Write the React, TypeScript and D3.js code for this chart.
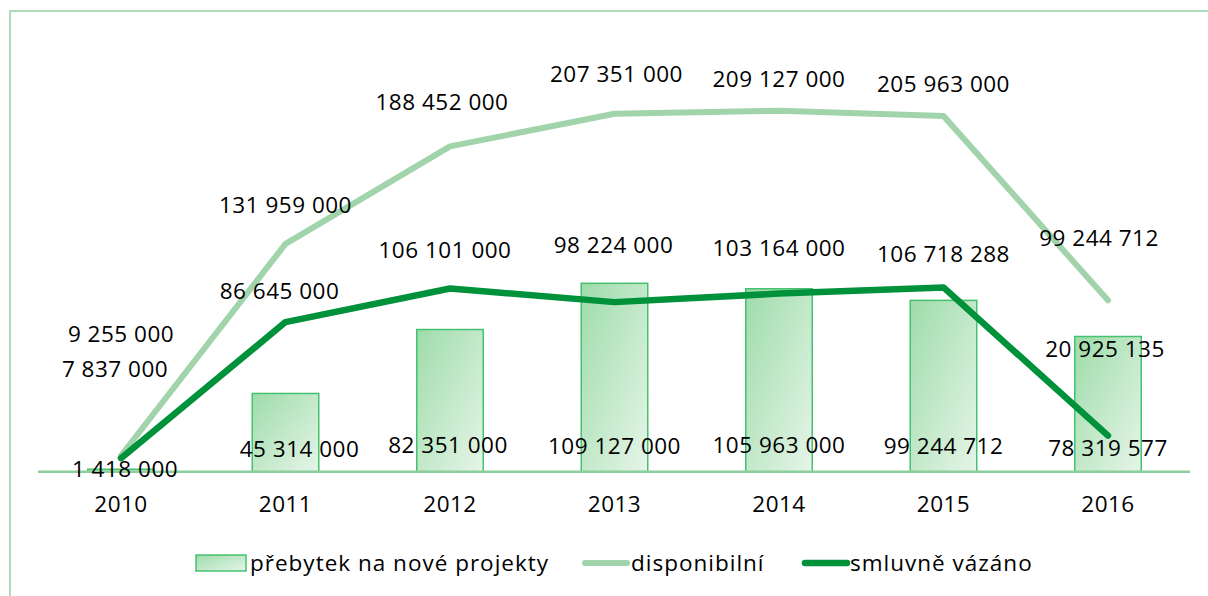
import React from "react";
import * as d3 from "d3";

// data
const years = ["2010", "2011", "2012", "2013", "2014", "2015", "2016"];
const prebytek = [1418000, 45314000, 82351000, 109127000, 105963000, 99244712, 78319577];
const disponibilni = [9255000, 131959000, 188452000, 207351000, 209127000, 205963000, 99244712];
const smluvne = [7837000, 86645000, 106101000, 98224000, 103164000, 106718288, 20925135];

// manual label placement (dx, dy from the point), as in the original
const dispLabelOff = [[0, -114], [0, -31], [-8, -36], [2, -32], [0, -24], [0, -24], [-9, -54]];
const smlLabelOff = [[-6, -81], [-6, -23], [-5, -31], [-1, -49], [0, -38], [0, -25], [-3, -79]];
const barLabelOff = [[4, 5], [14, -15], [-2, -19], [0, -18], [0, -19], [0, -18], [0, -16]];

const W = 1208;
const H = 596;
const FONT = "'Open Sans', sans-serif";

const fmt = (v: number) => d3.format(",")(v).replace(/,/g, " ");

export default function App() {
  const x = d3.scaleBand<string>().domain(years).range([38.75, 1190.25]);
  const y = d3.scaleLinear().domain([0, 109127000]).range([471.7, 283.3]);
  const cx = (yr: string) => (x(yr) as number) + x.bandwidth() / 2;
  const barW = 66.5;

  const line = d3
    .line<number>()
    .x((d, i) => cx(years[i]))
    .y((d) => y(d));

  const textStyle = { fontFamily: FONT, fontSize: 22.5, letterSpacing: 0.5, fill: "#000" };
  const legendStyle = { ...textStyle, letterSpacing: 1 };

  return (
    <svg
      width={W}
      height={H}
      style={{ position: "absolute", left: 0, top: 0, background: "#fff" }}
    >
      <defs>
        <linearGradient id="barGrad" x1="0" y1="0" x2="1" y2="1">
          <stop offset="0" stopColor="#9edcaa" />
          <stop offset="1" stopColor="#e6f5e8" />
        </linearGradient>
      </defs>
      <rect x={10} y={11} width={W + 10} height={H + 10} fill="none" stroke="#aedcb8" strokeWidth={2} />

      {prebytek.map((v, i) => (
        <rect
          key={"b" + i}
          x={cx(years[i]) - barW / 2}
          y={y(v)}
          width={barW}
          height={y(0) - y(v)}
          fill="url(#barGrad)"
          stroke="#45c270"
          strokeWidth={1.5}
        />
      ))}

      <line x1={38} x2={1190} y1={y(0)} y2={y(0)} stroke="#8dcf9c" strokeWidth={2.5} />

      <path d={line(disponibilni) || ""} fill="none" stroke="#a1d4ab" strokeWidth={6} strokeLinecap="round" strokeLinejoin="round" />
      <path d={line(smluvne) || ""} fill="none" stroke="#00913b" strokeWidth={6.5} strokeLinecap="round" strokeLinejoin="round" />

      {years.map((yr, i) => (
        <g key={"l" + yr}>
          <text
            x={cx(yr) + dispLabelOff[i][0]}
            y={y(disponibilni[i]) + dispLabelOff[i][1]}
            textAnchor="middle"
            style={textStyle}
          >
            {fmt(disponibilni[i])}
          </text>
          <text
            x={cx(yr) + smlLabelOff[i][0]}
            y={y(smluvne[i]) + smlLabelOff[i][1]}
            textAnchor="middle"
            style={textStyle}
          >
            {fmt(smluvne[i])}
          </text>
          <text
            x={cx(yr) + barLabelOff[i][0]}
            y={y(0) + barLabelOff[i][1]}
            textAnchor="middle"
            style={textStyle}
          >
            {fmt(prebytek[i])}
          </text>
          <text x={cx(yr)} y={512} textAnchor="middle" style={textStyle}>
            {yr}
          </text>
        </g>
      ))}

      {/* legend */}
      <g>
        <rect x={196} y={555} width={50} height={16} fill="url(#barGrad)" stroke="#45c270" strokeWidth={1.5} />
        <text x={250} y={571} style={legendStyle}>přebytek na nové projekty</text>
        <line x1={585} x2={627} y1={563} y2={563} stroke="#a1d4ab" strokeWidth={6} strokeLinecap="round" />
        <text x={631} y={571} style={legendStyle}>disponibilní</text>
        <line x1={805} x2={847} y1={563} y2={563} stroke="#00913b" strokeWidth={6.5} strokeLinecap="round" />
        <text x={850} y={571} style={legendStyle}>smluvně vázáno</text>
      </g>
    </svg>
  );
}
